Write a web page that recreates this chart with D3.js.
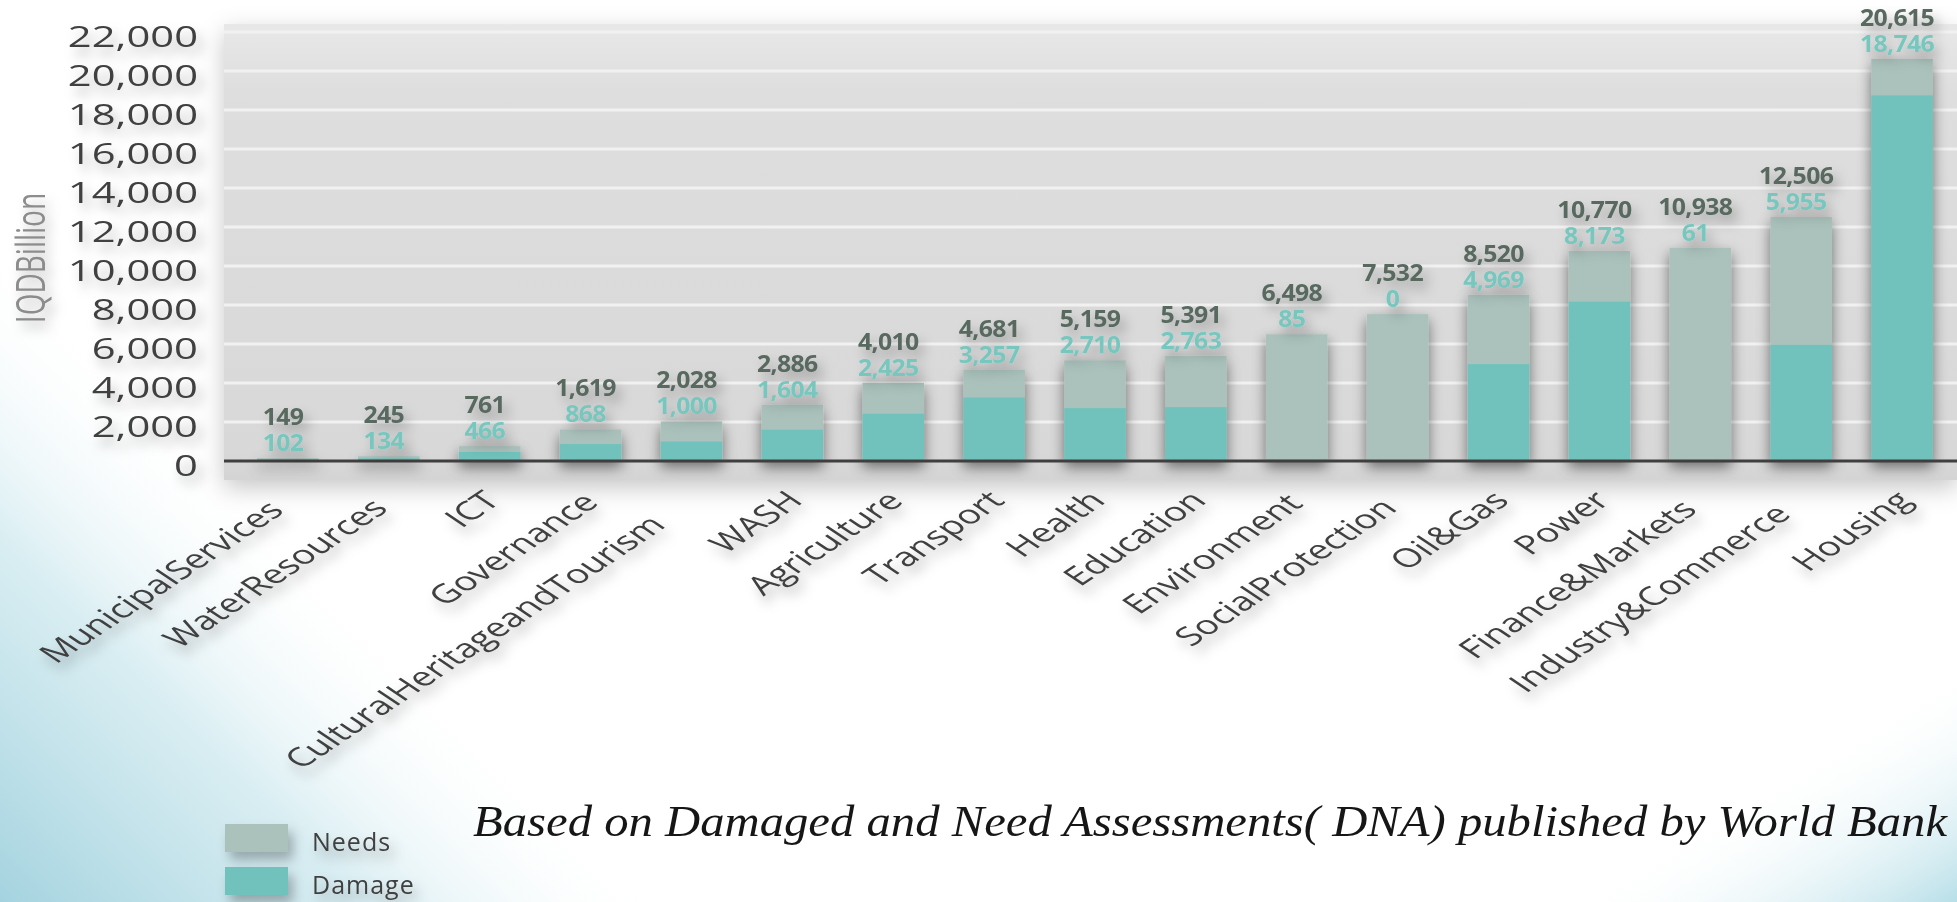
<!DOCTYPE html>
<html>
<head>
<meta charset="utf-8">
<script src="https://cdnjs.cloudflare.com/ajax/libs/d3/7.8.5/d3.min.js"></script>
<style>
  body { margin: 0; background: #fff; }
  svg { display: block; }
</style>
</head>
<body>
<div id="chart"></div>
<script>
// sectors, needs and damage in IQD billion
var sectors = ['MunicipalServices', 'WaterResources', 'ICT', 'Governance',
  'CulturalHeritageandTourism', 'WASH', 'Agriculture', 'Transport', 'Health',
  'Education', 'Environment', 'SocialProtection', 'Oil&Gas', 'Power',
  'Finance&Markets', 'Industry&Commerce', 'Housing'];
var needs = [149, 245, 761, 1619, 2028, 2886, 4010, 4681, 5159, 5391, 6498,
  7532, 8520, 10770, 10938, 12506, 20615];
var damage = [102, 134, 466, 868, 1000, 1604, 2425, 3257, 2710, 2763, 85,
  0, 4969, 8173, 61, 5955, 18746];
var yTicks = [0, 2000, 4000, 6000, 8000, 10000, 12000, 14000, 16000, 18000, 20000, 22000];
var legendItems = ['Needs', 'Damage'];
var note = 'Based on Damaged and Need Assessments( DNA) published by World Bank';

var W = 1957, H = 902;
var needsColor = '#abc2bc', damageColor = '#71c2bc';
var stretch = 1.44;  // y side texts are stretched sideways in the source
var xStretch = 1.5;  // category labels

var svg = d3.select('#chart').append('svg')
  .attr('width', W)
  .attr('height', H);
var defs = svg.append('defs');

// corner tints of the slide background
var gl = defs.append('linearGradient').attr('id', 'tintLeft')
  .attr('gradientUnits', 'userSpaceOnUse')
  .attr('x1', 0).attr('y1', H).attr('x2', 330).attr('y2', 570);
gl.append('stop').attr('offset', 0).attr('stop-color', '#a4d3df').attr('stop-opacity', 1);
gl.append('stop').attr('offset', 0.55).attr('stop-color', '#cfe9ef').attr('stop-opacity', 0.8);
gl.append('stop').attr('offset', 1).attr('stop-color', '#ffffff').attr('stop-opacity', 0);

var gr = defs.append('linearGradient').attr('id', 'tintRight')
  .attr('gradientUnits', 'userSpaceOnUse')
  .attr('x1', W).attr('y1', H).attr('x2', 1850).attr('y2', 725);
gr.append('stop').attr('offset', 0).attr('stop-color', '#b8dfe8').attr('stop-opacity', 1);
gr.append('stop').attr('offset', 1).attr('stop-color', '#ffffff').attr('stop-opacity', 0);

var gp = defs.append('linearGradient').attr('id', 'plotFill')
  .attr('x1', 0).attr('y1', 0).attr('x2', 0).attr('y2', 1);
gp.append('stop').attr('offset', 0).attr('stop-color', '#e8e8e8');
gp.append('stop').attr('offset', 0.15).attr('stop-color', '#dedede');
gp.append('stop').attr('offset', 0.94).attr('stop-color', '#d8d8d8');
gp.append('stop').attr('offset', 1).attr('stop-color', '#d4d4d4');

var makeShadow = function(id, blur, dx, dy, op) {
  var f = defs.append('filter').attr('id', id)
    .attr('filterUnits', 'userSpaceOnUse')
    .attr('x', -50).attr('y', -50).attr('width', W + 100).attr('height', H + 100);
  f.append('feGaussianBlur').attr('in', 'SourceAlpha').attr('stdDeviation', blur).attr('result', 'b');
  f.append('feOffset').attr('in', 'b').attr('dx', dx).attr('dy', dy).attr('result', 'o');
  f.append('feFlood').attr('flood-color', '#000').attr('flood-opacity', op);
  f.append('feComposite').attr('in2', 'o').attr('operator', 'in').attr('result', 's');
  var m = f.append('feMerge');
  m.append('feMergeNode').attr('in', 's');
  m.append('feMergeNode').attr('in', 'SourceGraphic');
};
makeShadow('plotShadow', 12, 0, 8, 0.22);
makeShadow('barShadow', 7, 0, 6, 0.5);
makeShadow('textShadow', 6, 5, 8, 0.28);

svg.append('rect').attr('width', W).attr('height', H).attr('fill', '#fff');
svg.append('rect').attr('width', W).attr('height', H).attr('fill', 'url(#tintLeft)');
svg.append('rect').attr('width', W).attr('height', H).attr('fill', 'url(#tintRight)');

var x = d3.scaleBand()
  .domain(sectors)
  .range([237.5, 1952.5])
  .paddingInner(0.39)
  .paddingOuter(0.195);
var y = d3.scaleLinear()
  .domain([0, 22000])
  .range([461, 32]);
var fmt = d3.format(',');

var rows = sectors.map(function(s, i) {
  return { sector: s, needs: needs[i], damage: damage[i] };
});

// plot area
svg.append('rect')
  .attr('x', 224).attr('y', 24)
  .attr('width', W - 224).attr('height', 456)
  .attr('fill', 'url(#plotFill)')
  .attr('filter', 'url(#plotShadow)');

svg.append('g').selectAll('line')
  .data(yTicks.slice(1))
  .enter().append('line')
  .attr('x1', 224).attr('x2', W)
  .attr('y1', function(d) { return y(d); })
  .attr('y2', function(d) { return y(d); })
  .attr('stroke', '#f1f1f1')
  .attr('stroke-width', 3);

// bars: needs behind, damage in front
var bars = svg.append('g').attr('filter', 'url(#barShadow)');
bars.selectAll('rect.needs')
  .data(rows)
  .enter().append('rect')
  .attr('class', 'needs')
  .attr('x', function(d) { return x(d.sector); })
  .attr('width', x.bandwidth())
  .attr('y', function(d) { return y(d.needs); })
  .attr('height', function(d) { return y(0) - y(d.needs); })
  .attr('fill', needsColor);
bars.selectAll('rect.damage')
  .data(rows)
  .enter().append('rect')
  .attr('class', 'damage')
  .attr('x', function(d) { return x(d.sector); })
  .attr('width', x.bandwidth())
  .attr('y', function(d) { return y(d.damage); })
  .attr('height', function(d) { return y(0) - y(d.damage); })
  .attr('fill', damageColor);

// baseline
svg.append('line')
  .attr('x1', 224).attr('x2', W)
  .attr('y1', y(0)).attr('y2', y(0))
  .attr('stroke', '#3f3f3f')
  .attr('stroke-width', 3);

var texts = svg.append('g').attr('filter', 'url(#textShadow)');

// y axis
var yAxis = d3.axisLeft(y).tickValues(yTicks).tickFormat(fmt).tickSize(0);
var yg = texts.append('g').attr('transform', 'translate(198,0)').call(yAxis);
yg.select('.domain').remove();
yg.selectAll('.tick text')
  .attr('x', 0).attr('dy', null)
  .attr('y', 14)
  .attr('transform', 'scale(' + stretch + ',1)')
  .attr('font-family', '"Open Sans", sans-serif')
  .attr('font-size', 29)
  .attr('fill', '#404040');

texts.append('text')
  .attr('transform', 'translate(31,258) scale(' + stretch + ',1) rotate(-90)')
  .attr('text-anchor', 'middle')
  .attr('dy', '0.35em')
  .attr('font-family', '"Open Sans", sans-serif')
  .attr('font-size', 28)
  .attr('fill', '#8c8c8c')
  .text('IQDBillion');

// x axis labels; long ones sit a little further down their slope, as in the source
var xAxis = d3.axisBottom(x).tickSize(0);
var xg = texts.append('g').attr('transform', 'translate(0,' + y(0) + ')').call(xAxis);
xg.select('.domain').remove();
xg.selectAll('.tick text')
  .attr('y', 0).attr('dy', null)
  .attr('text-anchor', 'end')
  .attr('transform', 'translate(12,41) scale(' + xStretch + ',1) rotate(-45)')
  .attr('font-family', '"Open Sans", sans-serif')
  .attr('font-size', 26)
  .attr('fill', '#404040')
  .attr('x', function() {
    var len = this.getComputedTextLength();
    return -Math.max(0, 0.16 * (len - 130));
  });

// value labels
var labelFont = '"Open Sans", sans-serif';
var addLabels = function(cls, color, dyOff, value) {
  texts.append('g').selectAll('text.' + cls)
    .data(rows)
    .enter().append('text')
    .attr('class', cls)
    .attr('transform', function(d) {
      return 'translate(' + (x(d.sector) + x.bandwidth() / 2 - 5) + ',' + (y(d.needs) - dyOff) + ') scale(1.08,1)';
    })
    .attr('text-anchor', 'middle')
    .attr('font-family', labelFont)
    .attr('font-weight', 700)
    .attr('font-size', 23)
    .attr('letter-spacing', -0.6)
    .attr('fill', color)
    .text(function(d) { return fmt(value(d)); });
};
addLabels('nl', '#58695f', 33, function(d) { return d.needs; });
addLabels('dl', '#77c7bf', 7, function(d) { return d.damage; });

// legend
var legend = svg.append('g').attr('filter', 'url(#textShadow)');
var lg = legend.selectAll('g')
  .data(legendItems)
  .enter().append('g')
  .attr('transform', function(d, i) { return 'translate(225,' + (824 + i * 43) + ')'; });
lg.append('rect')
  .attr('width', 63).attr('height', 28)
  .attr('fill', function(d, i) { return i === 0 ? needsColor : damageColor; });
lg.append('text')
  .attr('x', 87).attr('y', 27)
  .attr('font-family', '"Open Sans", sans-serif')
  .attr('font-size', 25)
  .attr('letter-spacing', 1)
  .attr('fill', '#404040')
  .text(function(d) { return d; });

svg.append('text')
  .attr('x', 473).attr('y', 836)
  .attr('font-family', '"Liberation Serif", serif')
  .attr('font-style', 'italic')
  .attr('font-size', 44)
  .attr('textLength', 1474)
  .attr('lengthAdjust', 'spacingAndGlyphs')
  .attr('fill', '#161616')
  .text(note);
</script>
</body>
</html>
